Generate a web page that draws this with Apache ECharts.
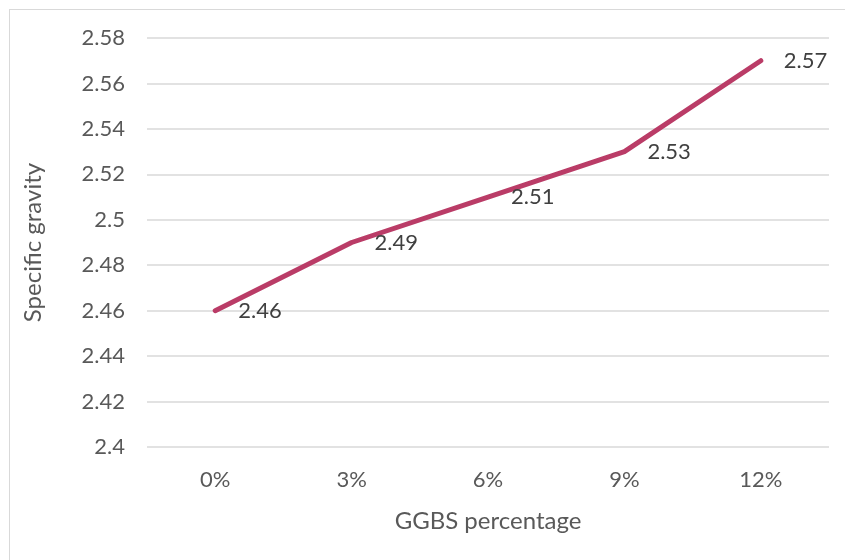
<!DOCTYPE html>
<html>
<head>
<meta charset="utf-8">
<script src="https://cdn.jsdelivr.net/npm/echarts@6/dist/echarts.min.js"></script>
<style>
  html, body { margin: 0; padding: 0; background: #fff; }
  #frame { position: absolute; left: 9px; top: 9px; width: 845px; height: 560px;
           border: 1px solid #d9d9d9; box-sizing: border-box; }
  #chart { position: absolute; left: 0; top: 0; width: 845px; height: 560px; }
</style>
</head>
<body>
<div id="frame"></div>
<div id="chart"></div>
<script>
// GGBS replacement levels and measured specific gravity
const categories = ['0%', '3%', '6%', '9%', '12%'];
const specificGravity = [2.46, 2.49, 2.51, 2.53, 2.57];
const yMin = 2.4, yMax = 2.58, yStep = 0.02;

const FONT = 'Lato, "Noto Sans", sans-serif';

const chart = echarts.init(document.getElementById('chart'), null, { renderer: 'canvas' });
chart.setOption({
  animation: false,
  grid: { left: 147, right: 16, top: 38, bottom: 113 },
  xAxis: {
    type: 'category',
    data: categories,
    boundaryGap: true,
    name: 'GGBS percentage',
    nameLocation: 'middle',
    nameGap: 62,
    nameTextStyle: { fontFamily: FONT, fontSize: 24, color: '#595959' },
    axisLine: { show: false },
    axisTick: { show: false },
    axisLabel: { fontFamily: FONT, fontSize: 22, color: '#595959', margin: 22 }
  },
  yAxis: {
    type: 'value',
    min: yMin, max: yMax, interval: yStep,
    name: 'Specific gravity',
    nameLocation: 'middle',
    nameGap: 102,
    nameRotate: 90,
    nameTextStyle: { fontFamily: FONT, fontSize: 24, color: '#595959' },
    axisLine: { show: false },
    axisTick: { show: false },
    splitLine: { lineStyle: { color: '#d9d9d9', width: 1.5 } },
    axisLabel: {
      fontFamily: FONT, fontSize: 22, color: '#595959', margin: 22,
      formatter: v => String(parseFloat(v.toFixed(2)))
    }
  },
  series: [{
    type: 'line',
    data: specificGravity,
    symbol: 'circle',
    symbolSize: 2,
    showSymbol: true,
    itemStyle: { color: '#BA3C67' },
    lineStyle: { color: '#BA3C67', width: 5, cap: 'round', join: 'round' },
    label: {
      show: true,
      position: 'right',
      distance: 22,
      offset: [0, 4],
      fontFamily: FONT, fontSize: 22, color: '#404040',
      formatter: p => p.value.toFixed(2)
    },
    labelLayout: { hideOverlap: false }
  }]
});
</script>
</body>
</html>
